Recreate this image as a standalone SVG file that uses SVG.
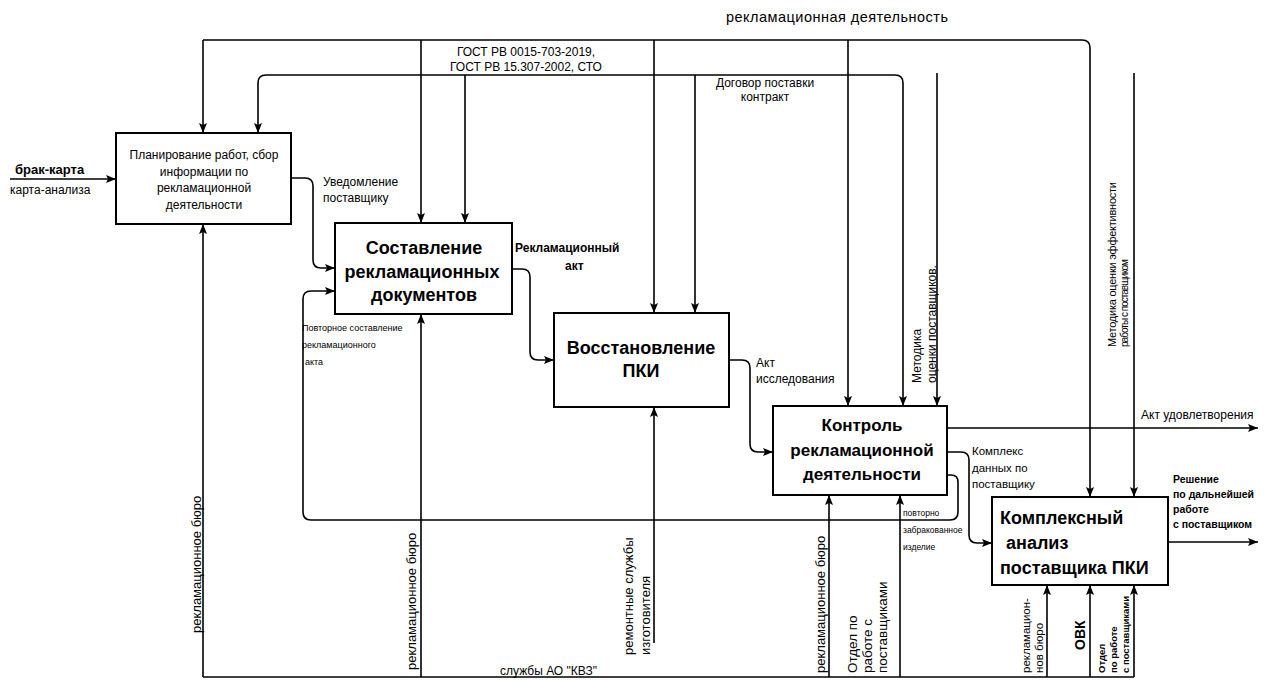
<svg xmlns="http://www.w3.org/2000/svg" width="1266" height="680" viewBox="0 0 1266 680">
<defs>
<marker id="ah" viewBox="0 0 10 8" refX="10" refY="4" markerWidth="10" markerHeight="8" markerUnits="userSpaceOnUse" orient="auto">
<path d="M0,0 L10,4 L0,8 L2,4 z" fill="#000"/>
</marker>
<style>
.box{fill:#fff;stroke:#000;stroke-width:2}
.ln{fill:none;stroke:#000;stroke-width:1.6}
.ar{marker-end:url(#ah)}
text{font-family:"Liberation Sans",Arial,sans-serif;fill:#000}
.s12{font-size:12px}
.bx{font-weight:bold;font-size:18px}
.c{text-anchor:middle}
</style>
</defs>
<rect width="1266" height="680" fill="#fff"/>

<g id="connectors">
<!-- inputs / outputs -->
<path class="ln ar" d="M10,179 H116"/>
<path class="ln ar" d="M291,178 H305 Q313,178 313,186 V260 Q313,268 321,268 H335"/>
<path class="ln ar" d="M512,269 H522 Q530,269 530,277 V352 Q530,360 538,360 H554"/>
<path class="ln ar" d="M729,360 H742 Q750,360 750,368 V444 Q750,452 758,452 H773"/>
<path class="ln ar" d="M947,428 H1258"/>
<path class="ln ar" d="M947,452 H961 Q969,452 969,460 V535 Q969,543 977,543 H992"/>
<path class="ln ar" d="M947,475 H951 Q958,475 958,482 V512 Q958,520 950,520 H311 Q303,520 303,512 V299 Q303,291 311,291 H335"/>
<path class="ln ar" d="M1168,542 H1258"/>
<!-- controls -->
<path class="ln ar" d="M203,40 V133"/>
<path class="ln ar" d="M203,40 H1082 Q1090,40 1090,48 V497"/>
<path class="ln ar" d="M421,40 V223"/>
<path class="ln ar" d="M654,40 V313"/>
<path class="ln ar" d="M848,40 V406"/>
<path class="ln ar" d="M895,75 Q903,75 903,83 V406"/>
<path class="ln ar" d="M895,75 H266 Q258,75 258,83 V133"/>
<path class="ln ar" d="M465,75 V223"/>
<path class="ln ar" d="M695,75 V313"/>
<path class="ln ar" d="M937,73 V406"/>
<path class="ln ar" d="M1134,73 V497"/>
<!-- mechanisms -->
<path class="ln" d="M203,677 H1134"/>
<path class="ln ar" d="M203,677 V224"/>
<path class="ln ar" d="M421,677 V314"/>
<path class="ln ar" d="M654,643 V407"/>
<path class="ln ar" d="M829,677 V495"/>
<path class="ln ar" d="M900,677 V495"/>
<path class="ln ar" d="M1047,677 V585"/>
<path class="ln ar" d="M1090,677 V585"/>
<path class="ln ar" d="M1134,677 V585"/>

<!-- labels -->
<text x="15" y="174" font-size="13" font-weight="bold">брак-карта</text>
<text x="10" y="194" class="s12">карта-анализа</text>
<text x="726" y="22" font-size="14.5" textLength="222">рекламационная деятельность</text>
<text x="526" y="56" class="s12 c">ГОСТ РВ 0015-703-2019,</text>
<text x="526" y="71" class="s12 c">ГОСТ РВ 15.307-2002, СТО</text>
<text x="765" y="87" class="s12 c">Договор поставки</text>
<text x="765" y="101" class="s12 c">контракт</text>
<text x="323" y="186" class="s12">Уведомление</text>
<text x="323" y="202" class="s12">поставщику</text>
<text x="515" y="252" class="s12" font-weight="bold">Рекламационный</text>
<text x="565" y="270" class="s12" font-weight="bold">акт</text>
<text x="756" y="367" class="s12">Акт</text>
<text x="756" y="383" class="s12">исследования</text>
<text x="1141" y="419" class="s12">Акт удовлетворения</text>
<text x="972" y="455" font-size="11.5">Комплекс</text>
<text x="972" y="472" font-size="11.5">данных по</text>
<text x="972" y="488" font-size="11.5">поставщику</text>
<text x="1173" y="483" font-size="10.5" font-weight="bold">Решение</text>
<text x="1173" y="498" font-size="10.5" font-weight="bold">по дальнейшей</text>
<text x="1173" y="513" font-size="10.5" font-weight="bold">работе</text>
<text x="1173" y="528" font-size="10.5" font-weight="bold">с поставщиком</text>
<text x="302" y="331" font-size="9">Повторное составление</text>
<text x="302" y="348" font-size="9">рекламационного</text>
<text x="305" y="365" font-size="9">акта</text>
<text x="903" y="516" font-size="8.5">повторно</text>
<text x="903" y="533" font-size="8.5">забракованное</text>
<text x="903" y="550" font-size="8.5">изделие</text>
<text x="500" y="675" class="s12">службы АО "КВЗ"</text>
<text transform="translate(921,383) rotate(-90)" class="s12">Методика</text>
<text transform="translate(936,383) rotate(-90)" class="s12">оценки поставщиков.</text>
<text transform="translate(1116,347) rotate(-90)" font-size="11" textLength="165">Методика оценки эффективности</text>
<text transform="translate(1128,347) rotate(-90)" font-size="10" textLength="88">работы с поставщиком</text>
<text transform="translate(201,633) rotate(-90)" font-size="13">рекламационное бюро</text>
<text transform="translate(416,670) rotate(-90)" font-size="13">рекламационное бюро</text>
<text transform="translate(633,655) rotate(-90)" font-size="13">ремонтные  службы</text>
<text transform="translate(650,655) rotate(-90)" font-size="13">изготовителя</text>
<text transform="translate(825,673) rotate(-90)" font-size="13">рекламационное бюро</text>
<text transform="translate(857,673) rotate(-90)" font-size="13.5">Отдел по</text>
<text transform="translate(872,673) rotate(-90)" font-size="13.5">работе с</text>
<text transform="translate(887,673) rotate(-90)" font-size="13.5">поставщиками</text>
<text transform="translate(1030,673) rotate(-90)" font-size="11.5">рекламацион-</text>
<text transform="translate(1043,673) rotate(-90)" font-size="11.5">нов бюро</text>
<text transform="translate(1085,650) rotate(-90)" font-size="14" font-weight="bold">ОВК</text>
<text transform="translate(1105,673) rotate(-90)" font-size="9.5" font-weight="bold">Отдел</text>
<text transform="translate(1117,673) rotate(-90)" font-size="9.5" font-weight="bold">по работе</text>
<text transform="translate(1129,673) rotate(-90)" font-size="9.5" font-weight="bold">с поставщиками</text>
</g>

<g id="node-planning">
<rect class="box" x="116" y="133" width="175" height="91"/>
<text x="204" y="159" class="s12 c">Планирование работ, сбор</text>
<text x="204" y="176" class="s12 c">информации по</text>
<text x="204" y="192" class="s12 c">рекламационной</text>
<text x="204" y="209" class="s12 c">деятельности</text>
</g>
<g id="node-documents">
<rect class="box" x="335" y="223" width="177" height="91"/>
<text x="424" y="254" class="bx c">Составление</text>
<text x="422" y="278" class="bx c">рекламационных</text>
<text x="424" y="301" class="bx c">документов</text>
</g>
<g id="node-restore">
<rect class="box" x="554" y="313" width="175" height="94"/>
<text x="641" y="354" class="bx c">Восстановление</text>
<text x="641" y="377" class="bx c">ПКИ</text>
</g>
<g id="node-control">
<rect class="box" x="773" y="406" width="174" height="89"/>
<text x="862" y="431" class="c" font-size="17" font-weight="bold">Контроль</text>
<text x="862" y="456" class="c" font-size="17" font-weight="bold">рекламационной</text>
<text x="862" y="480" class="c" font-size="17" font-weight="bold">деятельности</text>
</g>
<g id="node-analysis">
<rect class="box" x="992" y="497" width="176" height="88"/>
<text x="1000" y="524" class="bx">Комплексный</text>
<text x="1006" y="549" class="bx">анализ</text>
<text x="1000" y="574" class="bx">поставщика ПКИ</text>
</g>
</svg>
